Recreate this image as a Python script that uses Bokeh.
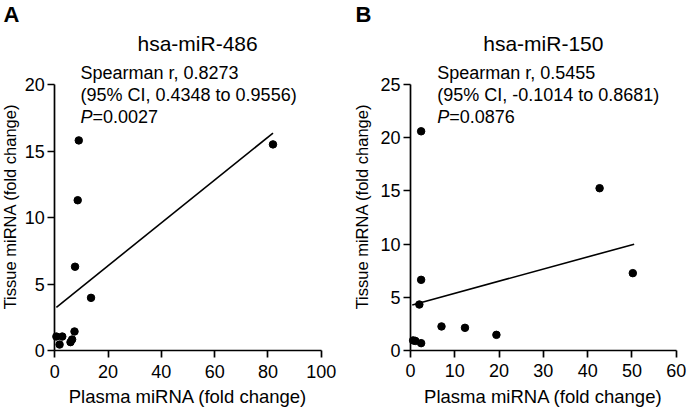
import math
from bokeh.plotting import figure
from bokeh.models import Label, FixedTicker, Range1d, LinearAxis
from bokeh.layouts import row
from bokeh.embed import file_html
from bokeh.resources import INLINE

# ---------------- data ----------------
a_title = "hsa-miR-486"
a_plasma = [0.6, 1.8, 2.8, 5.9, 6.5, 7.4, 7.6, 8.6, 9.0, 13.6, 81.9]
a_tissue = [1.05, 0.45, 1.05, 0.63, 0.83, 1.43, 6.3, 11.3, 15.8, 3.96, 15.5]
a_fit_x = [0.6, 81.9]
a_fit_y = [3.25, 16.35]
a_xticks = [0, 20, 40, 60, 80, 100]
a_yticks = [0, 5, 10, 15, 20]
a_stats = ["Spearman r, 0.8273", "(95% CI, 0.4348 to 0.9556)", "=0.0027"]

b_title = "hsa-miR-150"
b_plasma = [0.6, 1.1, 2.0, 2.4, 2.4, 2.4, 7.0, 12.3, 19.4, 42.7, 50.2]
b_tissue = [0.95, 0.9, 4.32, 0.69, 6.64, 20.6, 2.26, 2.13, 1.47, 15.25, 7.27]
b_fit_x = [0.4, 50.5]
b_fit_y = [4.28, 9.99]
b_xticks = [0, 10, 20, 30, 40, 50, 60]
b_yticks = [0, 5, 10, 15, 20, 25]
b_stats = ["Spearman r, 0.5455", "(95% CI, -0.1014 to 0.8681)", "=0.0876"]

x_label = "Plasma miRNA (fold change)"
y_label = "Tissue miRNA (fold change)"

FONT = "Liberation Sans"


def txt(p, x, y, text, size, align="left", style="normal", angle=0.0, x_offset=0):
    p.add_layout(Label(x=x, y=y, text=text, text_font=FONT, text_font_size=size,
                       text_font_style=style, text_align=align, text_baseline="middle",
                       text_color="black", angle=angle, x_offset=x_offset))


def panel(width, xr, yr, xb, yb, xt, yt, px, ty, fx, fy, title, stats, letter, pos):
    p = figure(width=width, height=409, x_range=Range1d(*xr), y_range=Range1d(*yr),
               output_backend="svg", toolbar_location=None,
               x_axis_location=None, y_axis_location=None,
               min_border_left=0, min_border_right=0, min_border_top=0,
               min_border_bottom=0)
    p.outline_line_color = None
    p.grid.visible = False
    p.background_fill_color = "white"
    p.border_fill_color = "white"

    xa = LinearAxis(fixed_location=0, bounds=xb, ticker=FixedTicker(ticks=xt))
    ya = LinearAxis(fixed_location=0, bounds=yb, ticker=FixedTicker(ticks=yt))
    for ax in (xa, ya):
        ax.axis_line_width = 1.7
        ax.axis_line_color = "black"
        ax.major_tick_line_width = 1.7
        ax.major_tick_line_color = "black"
        ax.major_tick_out = 7
        ax.major_tick_in = 0
        ax.minor_tick_line_color = None
        ax.major_label_text_font = FONT
        ax.major_label_text_font_size = "18px"
        ax.major_label_text_color = "black"
    xa.major_label_standoff = 7
    ya.major_label_standoff = 3
    p.add_layout(xa, "below")
    p.add_layout(ya, "left")

    p.line(fx, fy, line_color="black", line_width=1.6)
    p.scatter(px, ty, size=7.5, marker="circle", fill_color="black", line_color="black")

    txt(p, *pos["title"], title, "21px", align="center")
    sx, sy, dy = pos["stats"]
    txt(p, sx, sy, stats[0], "18px")
    txt(p, sx, sy - dy, stats[1], "18px")
    txt(p, sx, sy - 2 * dy, "P", "18px", style="italic")
    txt(p, sx, sy - 2 * dy, stats[2], "18px", x_offset=12)
    txt(p, *pos["letter"], letter, "22px", style="bold")
    txt(p, *pos["xlab"], x_label, "18.5px", align="center")
    txt(p, *pos["ylab"], y_label, "16.5px", align="center", angle=math.pi / 2)
    return p


pA = panel(343, (-20.38, 108.37), (-4.436, 26.32), (0, 100), (0, 20),
           a_xticks, a_yticks, a_plasma, a_tissue, a_fit_x, a_fit_y, a_title, a_stats, "A",
           {"title": (53.6, 23.08), "stats": (9.65, 20.85, 1.655),
            "letter": (-19.26, 25.23), "xlab": (50.0, -3.46), "ylab": (-17.0, 10.83)})
pB = panel(344, (-15.13, 62.55), (-5.545, 32.89), (0, 60), (0, 25),
           b_xticks, b_yticks, b_plasma, b_tissue, b_fit_x, b_fit_y, b_title, b_stats, "B",
           {"title": (30.0, 28.85), "stats": (6.03, 26.06, 2.07),
            "letter": (-12.42, 31.53), "xlab": (30.0, -4.32), "ylab": (-10.84, 13.53)})

layout = row(pA, pB)
open("out.html", "w").write(file_html(layout, INLINE))
